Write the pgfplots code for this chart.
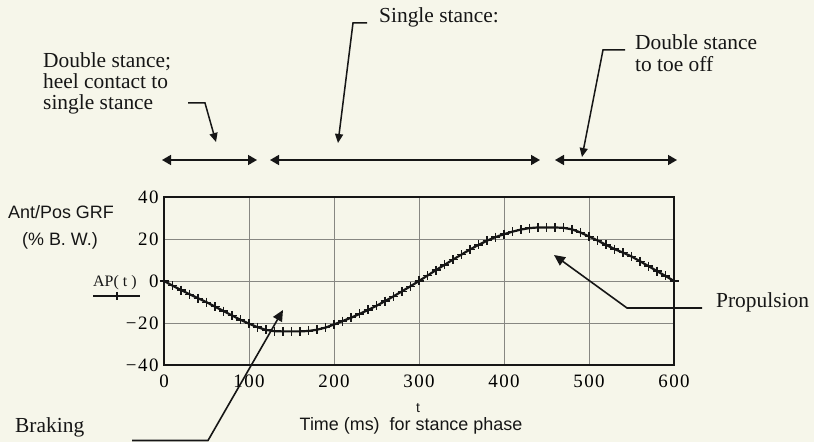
\documentclass[border=0pt]{standalone}
\usepackage{fontspec}
\setmainfont{Liberation Serif}
\setsansfont{Liberation Sans}
\usepackage{pgfplots}
\pgfplotsset{compat=1.18}
\usetikzlibrary{arrows.meta}
\definecolor{bg}{RGB}{246,246,234}
\definecolor{ink}{RGB}{22,22,22}
\definecolor{gridc}{RGB}{135,135,130}
\newcommand{\serifbig}{\fontsize{21.5}{21.5}\selectfont}
\newcommand{\sanslab}{\sffamily\fontsize{18}{18}\selectfont}
\begin{document}
\begin{tikzpicture}
\fill[bg] (0,0) rectangle (814bp,442bp);
\begin{axis}[
  at={(164bp,77bp)}, anchor=south west,
  scale only axis, width=510bp, height=168bp,
  xmin=0, xmax=600, ymin=-40, ymax=40,
  xtick={0,100,200,300,400,500,600},
  ytick={-40,-20,0,20,40},
  xticklabels={0,100,200,300,400,500,600},
  yticklabels={−40,−20,0,20,40},
  tick label style={font=\fontsize{19}{19}\selectfont\addfontfeature{LetterSpace=8}},
  xticklabel style={yshift=-6bp},
  yticklabel style={xshift=-2bp},
  major tick length=0pt,
  grid=major,
  grid style={gridc, line width=0.8bp},
  axis line style={ink, line width=1.8bp},
  clip=false,
]
\addplot[ink, line width=2.2bp, mark=+, mark size=4.5bp, mark options={line width=1.4bp}] coordinates {
(0,0) (10,-2.2) (20,-4.3) (30,-6.3) (40,-8.2) (50,-10.1) (60,-12.2) (70,-14.3) (80,-16.4) (90,-18.5)
(100,-20.3) (110,-22.0) (120,-23.3) (130,-23.9) (140,-24.0) (150,-24.0) (160,-24.0) (170,-23.8) (180,-23.2) (190,-22.2)
(200,-20.7) (210,-19.1) (220,-17.5) (230,-15.7) (240,-13.8) (250,-11.8) (260,-9.6) (270,-7.3) (280,-4.9) (290,-2.5)
(300,0) (310,2.6) (320,5.2) (330,7.7) (340,10.2) (350,12.6) (360,15.0) (370,17.2) (380,19.2) (390,20.9)
(400,22.3) (410,23.5) (420,24.5) (430,25.2) (440,25.5) (450,25.5) (460,25.5) (470,25.3) (480,24.6) (490,23.1)
(500,21.2) (510,19.3) (520,17.2) (530,15.2) (540,13.5) (550,11.7) (560,9.4) (570,7.1) (580,4.7) (590,2.4)
(600,0)
};
\end{axis}
\begin{scope}[x=1bp, y=-1bp, yshift=442bp]
  % phase double arrows
  \draw[ink, line width=1.6bp, {Triangle[length=9bp,width=10bp]}-{Triangle[length=9bp,width=10bp]}] (162,160) -- (257,160);
  \draw[ink, line width=1.6bp, {Triangle[length=9bp,width=10bp]}-{Triangle[length=9bp,width=10bp]}] (270,160) -- (540,160);
  \draw[ink, line width=1.6bp, {Triangle[length=9bp,width=10bp]}-{Triangle[length=9bp,width=10bp]}] (555,160) -- (677,160);
  % leaders
  \draw[ink, line width=1.5bp, -{Triangle[length=9bp,width=8bp]}] (188,103) -- (205,103) -- (216,142);
  \draw[ink, line width=1.5bp, -{Triangle[length=9bp,width=8bp]}] (367,23) -- (353,23) -- (338,143);
  \draw[ink, line width=1.5bp, -{Triangle[length=9bp,width=8bp]}] (625,50) -- (603,50) -- (582,157);
  \draw[ink, line width=1.6bp, -{Triangle[length=11bp,width=10bp]}] (132,440.5) -- (208,440.5) -- (283,310);
  \draw[ink, line width=1.6bp, -{Triangle[length=11bp,width=10bp]}] (702,308) -- (627,308) -- (554,255);
  % serif annotations
  \node[anchor=base west, inner sep=0, text=ink, font=\serifbig] at (43,68) {Double stance;};
  \node[anchor=base west, inner sep=0, text=ink, font=\serifbig] at (43,89) {heel contact to};
  \node[anchor=base west, inner sep=0, text=ink, font=\serifbig] at (43,110) {single stance};
  \node[anchor=base west, inner sep=0, text=ink, font=\serifbig] at (379,23) {Single stance:};
  \node[anchor=base west, inner sep=0, text=ink, font=\serifbig] at (635,50) {Double stance};
  \node[anchor=base west, inner sep=0, text=ink, font=\serifbig] at (635,72) {to toe off};
  \node[anchor=base west, inner sep=0, text=ink, font=\serifbig] at (15,433) {Braking};
  \node[anchor=base west, inner sep=0, text=ink, font=\serifbig] at (716,308) {Propulsion};
  % y label
  \node[anchor=base, inner sep=0, text=ink, font=\sanslab] at (61,219) {Ant/Pos GRF};
  \node[anchor=base, inner sep=0, text=ink, font=\sanslab] at (60,246) {(\% B. W.)};
  % x label
  \node[anchor=base, inner sep=0, text=ink, font=\sffamily\fontsize{14}{14}\selectfont] at (418,413) {t};
  \node[anchor=base, inner sep=0, text=ink, font=\sanslab] at (411,431) {Time (ms)\ \ for stance phase};
  % legend sample
  \node[anchor=base west, inner sep=0, text=ink, font=\fontsize{16}{16}\selectfont] at (93,287) {AP( t )};
  \draw[ink, line width=1.1bp] (93,296) -- (140,296);
  \draw[ink, line width=1.1bp] (117,292) -- (117,300);
\end{scope}
\pgfresetboundingbox
\useasboundingbox (0,0) rectangle (814bp,442bp);
\end{tikzpicture}
\end{document}
